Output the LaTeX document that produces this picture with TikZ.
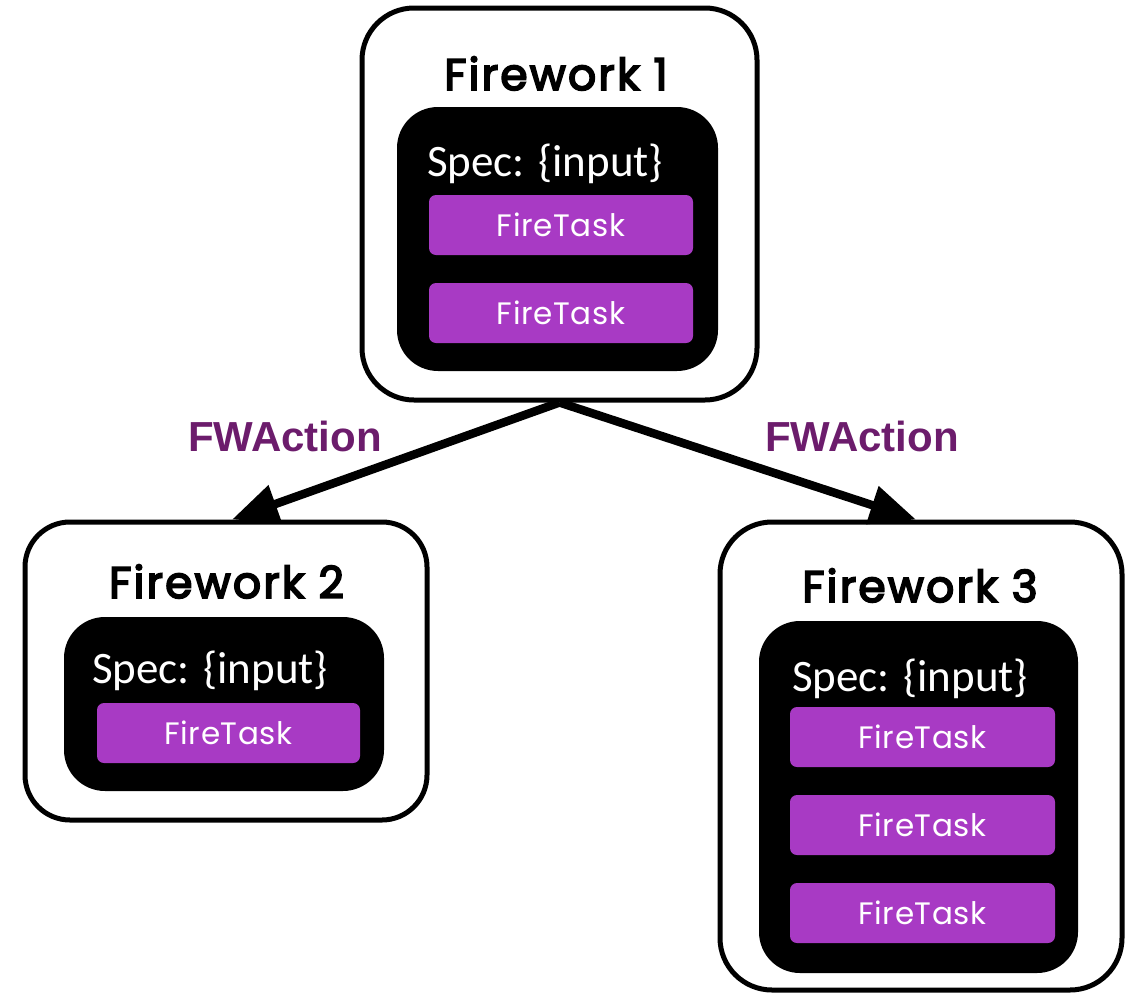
\documentclass[tikz,border=0pt]{standalone}
\usepackage{fontspec}
\usetikzlibrary{arrows.meta}
\newfontfamily\titlefont{Poppins}[FakeBold=4, LetterSpace=5]
\newfontfamily\taskfont{Poppins}[LetterSpace=2]
\newfontfamily\specfont{Carlito}
\newfontfamily\actionfont{Liberation Sans}
\definecolor{taskpurple}{RGB}{168,58,196}
\definecolor{actionpurple}{RGB}{108,28,108}
\tikzset{
  fwbox/.style={draw=black, line width=5pt, rounded corners=52pt, fill=white},
  specbox/.style={fill=black, draw=black, line width=2pt, rounded corners=40pt},
  taskbar/.style={fill=taskpurple, rounded corners=7pt, minimum width=264pt,
    minimum height=60pt, inner sep=0pt, text=white,
    font=\taskfont\fontsize{31}{36}\selectfont},
  fwtitle/.style={anchor=base, inner sep=0pt,
    font=\titlefont\fontsize{44}{48}\selectfont},
  spectext/.style={anchor=base west, inner sep=0pt, text=white,
    font=\specfont\fontsize{45}{48}\selectfont},
  actionlabel/.style={anchor=base, inner sep=0pt, text=actionpurple,
    font=\actionfont\bfseries\fontsize{42}{46}\selectfont},
  flow/.style={line width=8.5pt, -{Triangle[length=46pt,width=38pt]}}
}
\begin{document}
\begin{tikzpicture}[x=1pt,y=-1pt]
\useasboundingbox (0,0) rectangle (1135,996);

% Firework 1
\node[fwbox, minimum width=395pt, minimum height=392pt] (fw1) at (559.5,204) {};
\node[fwtitle] (t1) at (556,90) {Firework 1};
\node[specbox, minimum width=319pt, minimum height=262pt] (in1) at (557.5,239) {};
\node[spectext] (s1) at (427,176) {Spec: \{input\}};
\node[taskbar] (b11) at (561,225) {FireTask};
\node[taskbar] (b12) at (561,313) {FireTask};

% Firework 2
\node[fwbox, rounded corners=45pt, minimum width=402pt, minimum height=298pt] (fw2) at (226,671) {};
\node[fwtitle] (t2) at (226.5,598) {Firework 2};
\node[specbox, minimum width=318pt, minimum height=172pt] (in2) at (224,704) {};
\node[spectext] (s2) at (92,683) {Spec: \{input\}};
\node[taskbar, minimum width=263pt] (b21) at (228.5,733) {FireTask};

% Firework 3
\node[fwbox, minimum width=402pt, minimum height=468pt] (fw3) at (921,756) {};
\node[fwtitle] (t3) at (920,602) {Firework 3};
\node[specbox, minimum width=317pt, minimum height=350pt] (in3) at (918.5,797) {};
\node[spectext] (s3) at (792,691) {Spec: \{input\}};
\node[taskbar, minimum width=265pt] (b31) at (922.5,737) {FireTask};
\node[taskbar, minimum width=265pt] (b32) at (922.5,825) {FireTask};
\node[taskbar, minimum width=265pt] (b33) at (922.5,913) {FireTask};

% Actions
\draw[flow] (fw1.south) -- ([xshift=6pt]fw2.north);
\draw[flow] (fw1.south) -- ([xshift=-5pt]fw3.north);
\node[actionlabel] (a1) at (285,451) {FWAction};
\node[actionlabel] (a2) at (862,451) {FWAction};
\end{tikzpicture}
\end{document}
